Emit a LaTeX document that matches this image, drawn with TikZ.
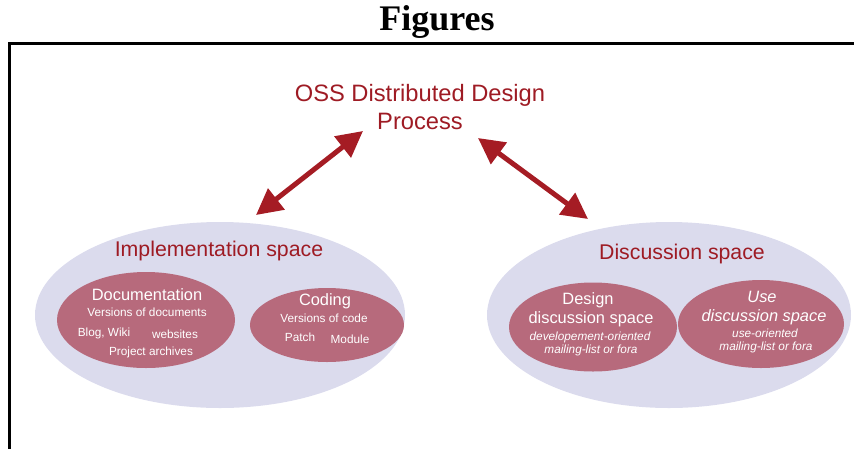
\documentclass[tikz,border=0pt]{standalone}
\usepackage{fontspec}
\setmainfont{Liberation Sans}
\newfontfamily\titlefont{Liberation Serif}
\usetikzlibrary{shapes.geometric,arrows.meta}
\definecolor{dred}{HTML}{9E1B24}
\definecolor{arrred}{HTML}{A51C24}
\definecolor{lav}{HTML}{DBDBED}
\definecolor{mauve}{HTML}{B76A7C}
\tikzset{
  bigspace/.style={ellipse, fill=lav, inner sep=0pt},
  subspace/.style={ellipse, fill=mauve, inner sep=0pt},
  headtxt/.style={text=dred, font=\fontsize{21.3}{25}\selectfont, inner sep=0pt},
  subhead/.style={text=white, font=\fontsize{16.4}{19}\selectfont, inner sep=0pt},
  smalltxt/.style={text=white, font=\fontsize{11.8}{14}\selectfont, inner sep=0pt},
  smallit/.style={text=white, font=\fontsize{11.8}{14}\selectfont\itshape, inner sep=0pt},
  bigarrow/.style={draw=arrred, line width=5pt, {Triangle[length=26pt,width=26pt]}-{Triangle[length=26pt,width=26pt]}},
}
\begin{document}
\begin{tikzpicture}[x=1pt,y=-1pt]
\useasboundingbox (0,0) rectangle (854,448);
% page title and frame
\node[font=\titlefont\bfseries\fontsize{36}{40}\selectfont, inner sep=0pt] (fig) at (437,22) {Figures};
\draw[line width=3pt] (9.5,460) -- (9.5,43) -- (870,43);
% top title
\node[headtxt, font=\fontsize{23.7}{28}\selectfont, align=center] (oss) at (420,107) {OSS Distributed Design\\Process};
% big ellipses
\node[bigspace, minimum width=370pt, minimum height=186pt] (impl) at (220,315) {};
\node[bigspace, minimum width=364pt, minimum height=186pt] (disc) at (669,315) {};
% arrow end points
\coordinate (a1) at (256,215);
\coordinate (a2) at (363,131);
\coordinate (b1) at (478,138);
\coordinate (b2) at (588,219);
\draw[bigarrow] (a1) -- (a2);
\draw[bigarrow] (b1) -- (b2);
% headings
\node[headtxt] (implt) at (219,251) {Implementation space};
\node[headtxt] (disct) at (682,254) {Discussion space};
% inner ellipses
\node[subspace, minimum width=178pt, minimum height=96pt] (doc) at (146,320) {};
\node[subspace, minimum width=154pt, minimum height=74pt] (cod) at (327,325) {};
\node[subspace, minimum width=168pt, minimum height=89pt] (des) at (593,327) {};
\node[subspace, minimum width=166pt, minimum height=88pt] (use) at (761,324) {};
% documentation texts
\node[subhead] (doct) at (147,295) {Documentation};
\node[smalltxt] (docv) at (147,312) {Versions of documents};
\node[smalltxt] (blog) at (104,333) {Blog, Wiki};
\node[smalltxt] (web) at (175,334) {websites};
\node[smalltxt] (proj) at (151,352) {Project archives};
% coding texts
\node[subhead] (codt) at (325,301) {Coding};
\node[smalltxt] (codv) at (324,318) {Versions of code};
\node[smalltxt] (patch) at (300,337) {Patch};
\node[smalltxt] (mod) at (350,339) {Module};
% design discussion texts
\node[subhead] (dest1) at (588,300) {Design};
\node[subhead] (dest2) at (591,319) {discussion space};
\node[smallit] (desv1) at (590,337) {developement-oriented};
\node[smallit] (desv2) at (591,350) {mailing-list or fora};
% use discussion texts
\node[subhead, font=\fontsize{16.4}{19}\selectfont\itshape] (uset1) at (762,297) {Use};
\node[subhead, font=\fontsize{16.4}{19}\selectfont\itshape] (uset2) at (764,317) {discussion space};
\node[smallit] (usev1) at (765,333) {use-oriented};
\node[smallit] (usev2) at (766,347) {mailing-list or fora};
\end{tikzpicture}
\end{document}
